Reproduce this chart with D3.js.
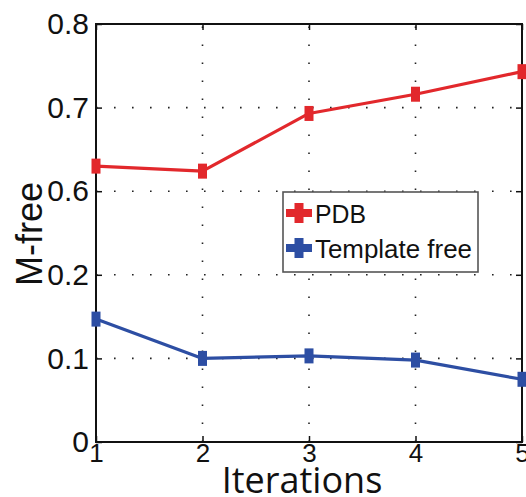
<!DOCTYPE html>
<html>
<head>
<meta charset="utf-8">
<script src="https://cdn.jsdelivr.net/npm/d3@7/dist/d3.min.js"></script>
<style>
  html, body { margin: 0; padding: 0; background: #fff; }
  svg { display: block; }
  text { font-family: "Liberation Sans", Arial, Helvetica, sans-serif; fill: #111; }
</style>
</head>
<body>
<svg id="chart" width="526" height="497"></svg>
<script>
// Iteration numbers along the x axis
const iterations = [1, 2, 3, 4, 5];
// M-free per iteration for each series
const pdbValues = [0.630, 0.624, 0.693, 0.716, 0.743];
const templateFreeValues = [0.147, 0.100, 0.103, 0.098, 0.075];
// Y axis tick values (the axis is broken between 0.2 and 0.6)
const yTickValues = [0, 0.1, 0.2, 0.6, 0.7, 0.8];
const yTickLabels = ["0", "0.1", "0.2", "0.6", "0.7", "0.8"];
const xTickLabels = ["1", "2", "3", "4", "5"];
const seriesNames = ["PDB", "Template free"];

const W = 526, H = 497;
const plot = { left: 96, right: 522, top: 24, bottom: 442 };
const red = "#e2282c", blue = "#2d4ea3";

const svg = d3.select("#chart");

const x = d3.scaleLinear().domain([1, 5]).range([plot.left, plot.right]);
// Piecewise scale: each labelled tick gets an equal share of the height
const y = d3.scaleLinear()
  .domain(yTickValues)
  .range(yTickValues.map((_, i) => plot.bottom - i * (plot.bottom - plot.top) / (yTickValues.length - 1)));

// Dotted grid
const grid = svg.append("g").attr("stroke", "#222").attr("stroke-width", 1.6)
  .attr("stroke-dasharray", "1.6,16.4").attr("fill", "none");
iterations.slice(1, -1).forEach(v => {
  grid.append("line").attr("x1", x(v)).attr("x2", x(v))
    .attr("y1", plot.bottom).attr("y2", plot.top);
});
yTickValues.slice(1, -1).forEach(v => {
  grid.append("line").attr("x1", plot.left).attr("x2", plot.right)
    .attr("y1", y(v)).attr("y2", y(v));
});

// Axes with inward ticks on all four sides
const tl = 6;
const xb = svg.append("g").attr("transform", `translate(0,${plot.bottom})`)
  .call(d3.axisBottom(x).tickValues(iterations).tickSize(-tl).tickFormat((d, i) => xTickLabels[i]).tickPadding(2));
const xt = svg.append("g").attr("transform", `translate(0,${plot.top})`)
  .call(d3.axisTop(x).tickValues(iterations).tickSize(-tl).tickFormat(""));
const yl = svg.append("g").attr("transform", `translate(${plot.left},0)`)
  .call(d3.axisLeft(y).tickValues(yTickValues).tickSize(-tl).tickFormat((d, i) => yTickLabels[i]).tickPadding(7));
const yr = svg.append("g").attr("transform", `translate(${plot.right},0)`)
  .call(d3.axisRight(y).tickValues(yTickValues).tickSize(-tl).tickFormat(""));
[xb, xt, yl, yr].forEach(g => {
  g.select(".domain").remove();
  g.selectAll(".tick line").attr("stroke", "#111").attr("stroke-width", 1.5);
  g.selectAll("text").attr("fill", "#111")
    .style("font-family", "'Liberation Sans', Arial, sans-serif");
});
xb.selectAll("text").style("font-size", "26px").attr("dy", "0.71em");
yl.selectAll("text").style("font-size", "30px");

// Frame
svg.append("rect").attr("x", plot.left).attr("y", plot.top)
  .attr("width", plot.right - plot.left).attr("height", plot.bottom - plot.top)
  .attr("fill", "none").attr("stroke", "#111").attr("stroke-width", 2);

// Series lines with error-bar markers
function drawSeries(values, color) {
  const pts = iterations.map((it, i) => [x(it), y(values[i])]);
  svg.append("path").attr("d", d3.line()(pts))
    .attr("fill", "none").attr("stroke", color).attr("stroke-width", 3.2)
    .attr("stroke-linejoin", "round");
  svg.append("g").selectAll("rect").data(pts).join("rect")
    .attr("x", d => d[0] - 4.5).attr("y", d => d[1] - 7.5)
    .attr("width", 9).attr("height", 15).attr("fill", color);
}
drawSeries(pdbValues, red);
drawSeries(templateFreeValues, blue);

// Legend
const lg = svg.append("g");
lg.append("rect").attr("x", 283).attr("y", 192).attr("width", 195).attr("height", 80)
  .attr("fill", "#fff").attr("stroke", "#555").attr("stroke-width", 1.6);
[[seriesNames[0], red, 213], [seriesNames[1], blue, 248]].forEach(([name, c, cy]) => {
  lg.append("rect").attr("x", 286).attr("y", cy - 4).attr("width", 26).attr("height", 8).attr("fill", c);
  lg.append("rect").attr("x", 294.5).attr("y", cy - 10).attr("width", 9).attr("height", 20).attr("fill", c);
  lg.append("text").attr("x", 315).attr("y", cy + 10).style("font-size", "26px")
    .attr("textLength", name === "PDB" ? 51 : 157).attr("lengthAdjust", "spacingAndGlyphs").text(name);
});

// Axis titles
svg.append("text").attr("x", 302).attr("y", 493).attr("text-anchor", "middle")
  .style("font-size", "36px").style("font-family", "'Open Sans', 'Liberation Sans', sans-serif").text("Iterations");
svg.append("text").attr("transform", "translate(42,234) rotate(-90)").attr("text-anchor", "middle")
  .style("font-size", "36px").text("M-free");
</script>
</body>
</html>
